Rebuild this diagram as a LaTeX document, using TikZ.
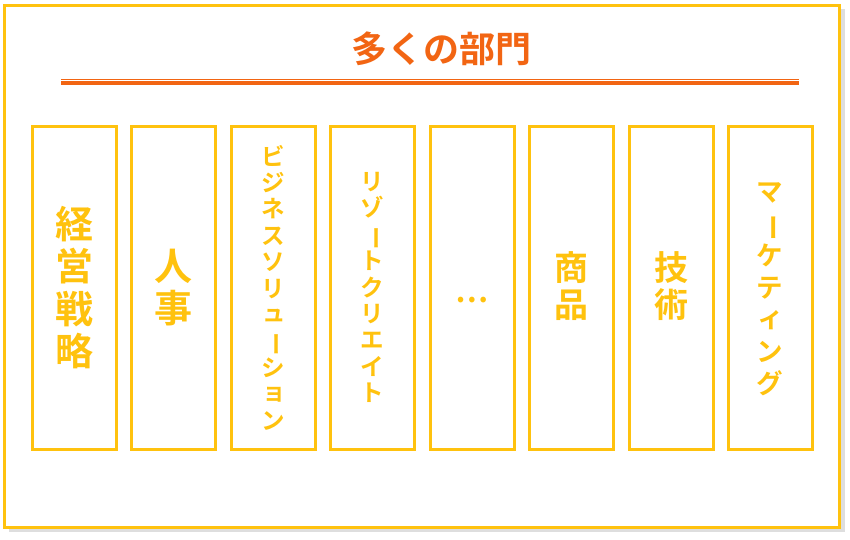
\documentclass[tikz,border=0pt]{standalone}
\usepackage{fontspec}
\usepackage{graphicx}
\newfontfamily\jp{Noto Sans CJK JP}[BoldFont={Noto Sans CJK JP Bold}]
\definecolor{gold}{HTML}{FFC20E}
\definecolor{orng}{HTML}{F26513}
\newcommand{\vbar}{\rotatebox[origin=c]{-90}{ー}}
\newcommand{\smk}[1]{\hspace*{0.1em}\raisebox{0.1em}{#1}}
\tikzset{
  colbox/.style={draw=gold, line width=3pt, minimum width=84pt, minimum height=323pt, inner sep=0pt},
  vtext/.style={text=gold, align=center, inner sep=0pt},
  kanji/.style={vtext, font=\jp\bfseries\fontsize{38}{42.5}\selectfont},
  kanjib/.style={vtext, font=\jp\bfseries\fontsize{34}{37}\selectfont},
  kana/.style={vtext, font=\jp\bfseries\fontsize{23.5}{26.4}\selectfont},
  kanab/.style={vtext, font=\jp\bfseries\fontsize{26.5}{32}\selectfont},
}
\begin{document}
\begin{tikzpicture}[x=1pt,y=-1pt]
\useasboundingbox (0,0) rectangle (850,539);
% shadow and frame
\fill[black!13] (9,9) rectangle (845,532);
\node[draw=gold, fill=white, line width=3pt, minimum width=835pt, minimum height=522pt, inner sep=0pt] (frame) at (422,266) {};
% title
\node[text=orng, font=\jp\bfseries\fontsize{36}{40}\selectfont, inner sep=0pt] (title) at (441.5,49) {多くの部門};
\coordinate (la) at (61,79.3);
\coordinate (lb) at (799,79.3);
\coordinate (lc) at (61,82.8);
\coordinate (ld) at (799,82.8);
\draw[orng, line width=1.1pt] (la) -- (lb);
\draw[orng, line width=3.4pt] (lc) -- (ld);
% columns
\foreach \i/\x in {1/74,2/173.5,3/273,4/372.5,5/472,6/571.5,7/671,8/770.5}{
  \node[colbox] (c\i) at (\x,287.5) {};
}
\node[kanji] (t1) at (c1) {経\\営\\戦\\略};
\node[kanji] (t2) at (c2) {人\\事};
\node[kana] (t3) at (c3) {ビ\\ジ\\ネ\\ス\\ソ\\リ\\\smk{ュ}\\\vbar\\シ\\\smk{ョ}\\ン};
\node[kana] (t4) at (c4) {リ\\ゾ\\\vbar\\ト\\ク\\リ\\エ\\イ\\ト};
\node[vtext, font=\jp\bfseries\fontsize{30}{32}\selectfont] (t5) at ([yshift=-13pt]c5) {…};
\node[kanjib] (t6) at ([yshift=1pt]c6) {商\\品};
\node[kanjib] (t7) at ([yshift=1pt]c7) {技\\術};
\node[kanab] (t8) at ([xshift=-1pt,yshift=-2pt]c8) {マ\\\vbar\\ケ\\テ\\\smk{ィ}\\ン\\グ};
\end{tikzpicture}
\end{document}
